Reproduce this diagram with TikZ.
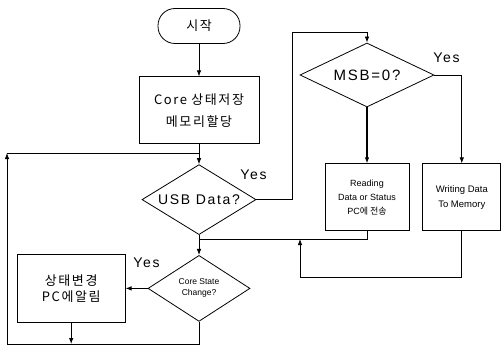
\documentclass[tikz,border=0pt]{standalone}
\usepackage{fontspec}
\setmainfont{Liberation Sans}
\newfontfamily\kr[LetterSpace=12]{Noto Sans CJK KR}
\newfontfamily\krsmall{Noto Sans CJK KR}
\newfontfamily\spaced[LetterSpace=12]{Liberation Sans}
\usetikzlibrary{shapes.geometric,arrows.meta,positioning}

\begin{document}
\begin{tikzpicture}[x=1pt, y=-1pt, >={Latex[length=6pt,width=4.5pt]}, line width=0.8pt,
    box/.style={rectangle, draw, text centered, inner sep=0pt, align=center},
    decision/.style={diamond, draw, text centered, inner sep=0pt, align=center},
    yes/.style={font=\spaced\fontsize{14}{14}\selectfont, inner sep=0pt}]
    \useasboundingbox (0,0) rectangle (504,353);

    % main column
    \node[box, rounded corners=17pt, minimum width=82pt, minimum height=35pt, font=\kr\fontsize{13}{13}\selectfont] (start) at (199,26) {시작};
    \node[box, minimum width=120pt, minimum height=67pt, below=32.5pt of start, font=\kr\fontsize{13}{22}\selectfont] (core) {Core 상태저장\\메모리할당};
    \node[decision, aspect=1.63, minimum width=114pt, minimum height=70pt, below=20pt of core, font=\spaced\fontsize{14}{14}\selectfont] (usb) {USB Data?};
    \node[decision, aspect=1.55, minimum width=102pt, minimum height=66pt, below=20pt of usb, font=\fontsize{8.5}{11}\selectfont] (change) {Core State\\Change?};
    \node[box, minimum width=108pt, minimum height=68pt, left=22pt of change, font=\kr\fontsize{13}{16}\selectfont] (status) {상태변경\\PC에알림};

    % right branch
    \node[decision, aspect=2.09, minimum width=134pt, minimum height=64pt, font=\spaced\fontsize{15}{15}\selectfont] (msb) at (367,75) {MSB=0?};
    \node[box, minimum width=84pt, minimum height=67pt, below=56pt of msb, font=\fontsize{9}{14}\selectfont] (read) {Reading\\Data or Status\\PC{\krsmall 에 전송}};
    \node[box, minimum width=78pt, minimum height=67pt, right=13pt of read, font=\fontsize{9.5}{15}\selectfont] (write) {Writing Data\\To Memory};

    % labels
    \node[yes, anchor=south west] (yesusb) at (240,180) {Yes};
    \node[yes, anchor=south west] (yesmsb) at (433,63) {Yes};
    \node[yes, anchor=south west] (yeschange) at (133,268) {Yes};

    % turning points
    \coordinate (loopin) at (199,153);
    \coordinate (loopcorner) at (7,153);
    \coordinate (loopbottom) at (7,344);
    \coordinate (upturn) at (292,32);
    \coordinate (readjoin) at (199,239);
    \coordinate (writeturn) at (300,277);
    \coordinate (writejoin) at (300,239);
    \coordinate (statusjoin) at (status.south |- loopbottom);

    \draw[->] (start) -- (core);
    \draw[->] (core) -- (usb);
    \draw[->] (usb) -- (change);
    \draw[->] (change) -- (status);
    \draw[->] (status) -- (statusjoin);
    \draw (change.south) |- (loopbottom);
    \draw[->] (loopbottom) -- (loopcorner);
    \draw (loopcorner) -- (loopin);
    \draw[->] (usb.east) -| (upturn) -| (msb.north);
    \draw[->, line width=1.2pt] (msb) -- (read);
    \draw[->] (msb.east) -| (write.north);
    \draw (read.south) |- (readjoin);
    \draw[->] (write.south) |- (writeturn) -- (writejoin);
\end{tikzpicture}
\end{document}
